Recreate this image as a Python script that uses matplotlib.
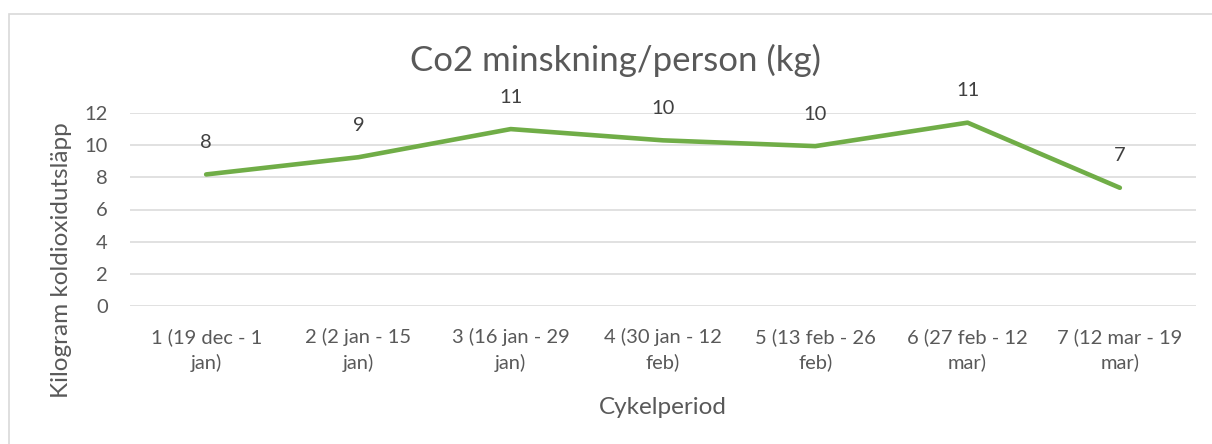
import matplotlib
matplotlib.use("Agg")
import matplotlib.pyplot as plt
from matplotlib.patches import Rectangle

categories = ["1 (19 dec - 1\njan)", "2 (2 jan - 15\njan)", "3 (16 jan - 29\njan)",
              "4 (30 jan - 12\nfeb)", "5 (13 feb - 26\nfeb)", "6 (27 feb - 12\nmar)",
              "7 (12 mar - 19\nmar)"]
values = [8.18, 9.25, 11.0, 10.3, 9.94, 11.4, 7.35]
yticks = [0, 2, 4, 6, 8, 10, 12]
title = "Co2 minskning/person (kg)"
xlabel = "Cykelperiod"
ylabel = "Kilogram koldioxidutsläpp"

W, H = 1212, 444
plt.rcParams['font.family'] = ['Lato', 'DejaVu Sans']
fig = plt.figure(figsize=(W/100, H/100), dpi=100)
txt = '#595959'

# chart border (left/top visible)
fig.patches.append(Rectangle((8.5/W, -0.1), 1.2, (H-14.5)/H + 0.1, transform=fig.transFigure,
                             fill=False, edgecolor='#D9D9D9', linewidth=1.2))

ax = fig.add_axes([130/W, 1-306/H, (1196-130)/W, (306-113)/H])
x = list(range(len(values)))
ax.plot(x, values, color='#70AD47', linewidth=3.3, solid_capstyle='round', solid_joinstyle='round', zorder=3)
ax.set_xlim(-0.5, len(values)-0.5)
ax.set_ylim(0, 12)
ax.set_yticks(yticks)
ax.set_yticklabels([str(t) for t in yticks])
ax.set_xticks(x)
ax.set_xticklabels(categories, linespacing=1.5)
ax.grid(axis='y', color='#D9D9D9', linewidth=1.1)
ax.set_axisbelow(True)
for s in ax.spines.values():
    s.set_visible(False)
ax.tick_params(axis='both', length=0, labelsize=14.5, colors=txt)
ax.tick_params(axis='y', pad=16)
ax.tick_params(axis='x', pad=16)

for xi, v in zip(x, values):
    ax.annotate(f"{v:.0f}", (xi, v), xytext=(0, 23), textcoords='offset points',
                ha='center', va='center', fontsize=14.5, color='#404040')

fig.text(616/W, 1-60/H, title, ha='center', va='center', fontsize=25, color=txt)
fig.text(663/W, 1-407/H, xlabel, ha='center', va='center', fontsize=17.5, color=txt)
fig.text(62/W, 1-260/H, ylabel, ha='center', va='center', rotation=90, fontsize=17.5, color=txt)

fig.savefig("out.png", dpi=100, facecolor='white')
